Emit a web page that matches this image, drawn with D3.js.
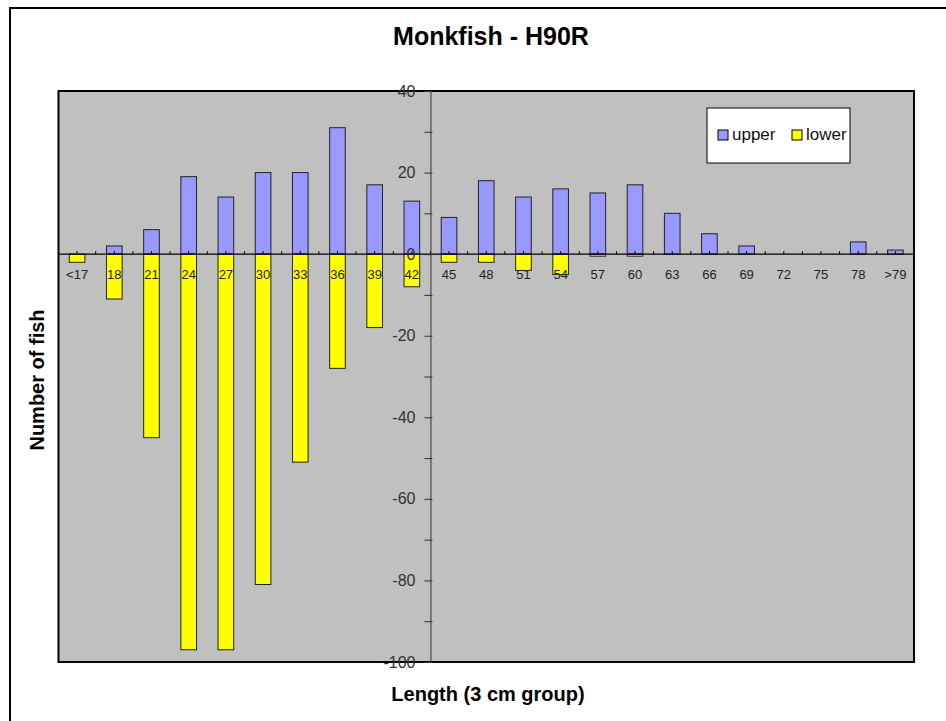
<!DOCTYPE html>
<html>
<head>
<meta charset="utf-8">
<script src="https://cdn.jsdelivr.net/npm/d3@7"></script>
<style>
    body { margin: 0; background: #fff; }
    svg text { font-family: "Liberation Sans", Arial, sans-serif; }
</style>
</head>
<body>
<script>
const width = 946;
const height = 721;

// length groups (3 cm)
let categories = ["<17", "18", "21", "24", "27", "30", "33", "36", "39", "42", "45",
    "48", "51", "54", "57", "60", "63", "66", "69", "72", "75", "78", ">79"];

let upper = [0, 2, 6, 19, 14, 20, 20, 31, 17, 13, 9, 18, 14, 16, 15, 17, 10, 5, 2, 0, 0, 3, 1];
let lower = [-2, -11, -45, -97, -97, -81, -51, -28, -18, -8, -2, -2, -4, -5, -0.5, -0.5, 0, 0, 0, 0, 0, 0, 0];

let yTicks = [-100, -90, -80, -70, -60, -50, -40, -30, -20, -10, 0, 10, 20, 30, 40];

let series = [
    { name: "upper", values: upper, color: "#9999ff" },
    { name: "lower", values: lower, color: "#ffff00" }
];

let margin = { top: 91, right: 32, bottom: 59, left: 58.5 };

let svg = d3
    .select("body")
    .append("svg")
    .attr("width", width)
    .attr("height", height);

// outer chart border (runs off the right / bottom edge)
svg.append("rect")
    .attr("x", 10)
    .attr("y", 8)
    .attr("width", width)
    .attr("height", height)
    .attr("fill", "#fff")
    .attr("stroke", "#000")
    .attr("stroke-width", 2);

let xScale = d3.scaleBand()
    .domain(categories)
    .range([margin.left, width - margin.right])
    .padding(0);

let yScale = d3.scaleLinear()
    .domain([-100, 40])
    .range([height - margin.bottom, margin.top]);

let barWidth = xScale.bandwidth() * 0.42;

// plot area
svg.append("rect")
    .attr("x", margin.left)
    .attr("y", margin.top)
    .attr("width", width - margin.right - margin.left)
    .attr("height", yScale(-100) - yScale(40))
    .attr("fill", "#c0c0c0")
    .attr("stroke", "#000")
    .attr("stroke-width", 2);

// bars - both series share the same slot
series.forEach(s => {
    svg.append("g")
        .selectAll("rect")
        .data(categories.map((c, i) => ({ cat: c, value: s.values[i] })).filter(d => d.value != 0))
        .join("rect")
        .attr("x", d => xScale(d.cat) + (xScale.bandwidth() - barWidth) / 2)
        .attr("y", d => yScale(Math.max(0, d.value)))
        .attr("width", barWidth)
        .attr("height", d => Math.abs(yScale(d.value) - yScale(0)))
        .attr("fill", s.color)
        .attr("stroke", "#222")
        .attr("stroke-width", 1);
});

// category axis along zero
let zeroY = yScale(0);
let catAxis = svg.append("g");

catAxis.append("line")
    .attr("x1", margin.left)
    .attr("x2", width - margin.right)
    .attr("y1", zeroY)
    .attr("y2", zeroY)
    .attr("stroke", "#000")
    .attr("stroke-width", 1.2);

let halfSteps = [];
categories.forEach(c => {
    halfSteps.push(xScale(c));
    halfSteps.push(xScale(c) + xScale.bandwidth() / 2);
});

catAxis.selectAll(".tk")
    .data(halfSteps.slice(1))
    .join("line")
    .attr("class", "tk")
    .attr("x1", d => d)
    .attr("x2", d => d)
    .attr("y1", zeroY - 3)
    .attr("y2", zeroY)
    .attr("stroke", "#000");

catAxis.selectAll(".lbl")
    .data(categories)
    .join("text")
    .attr("class", "lbl")
    .attr("x", d => xScale(d) + xScale.bandwidth() / 2)
    .attr("y", zeroY + 25)
    .attr("text-anchor", "middle")
    .style("font-size", "13px")
    .attr("fill", "#222")
    .text(d => d);

// value axis, crossing between 42 and 45
let leftAxis = d3.axisLeft(yScale)
    .tickValues(yTicks)
    .tickSizeInner(6)
    .tickSizeOuter(0)
    .tickPadding(9)
    .tickFormat(d => d % 20 == 0 ? d : "");

let leftContainer = svg.append("g")
    .attr("transform", `translate(${xScale("45")}, 0)`)
    .call(leftAxis);

leftContainer.select(".domain").attr("stroke", "#333");
leftContainer.selectAll(".tick line").attr("stroke", "#333").attr("x2", -6).attr("x1", 2);
leftContainer.selectAll(".tick text")
    .attr("fill", "#333")
    .style("font-size", "16px")
    .style("font-family", "'Liberation Sans', Arial, sans-serif");

// legend
let legend = svg.append("g").attr("transform", "translate(707, 108)");

legend.append("rect")
    .attr("width", 143)
    .attr("height", 55)
    .attr("fill", "#fff")
    .attr("stroke", "#000");

let legendX = [11, 85];

series.forEach((s, i) => {
    legend.append("rect")
        .attr("x", legendX[i])
        .attr("y", 22)
        .attr("width", 10)
        .attr("height", 10)
        .attr("fill", s.color)
        .attr("stroke", "#000");

    legend.append("text")
        .attr("x", legendX[i] + 14)
        .attr("y", 32)
        .style("font-size", "17px")
        .attr("fill", "#111")
        .text(s.name);
});

// titles
svg.append("text")
    .attr("x", 491)
    .attr("y", 45)
    .attr("text-anchor", "middle")
    .style("font-size", "25px")
    .style("font-weight", "bold")
    .text("Monkfish - H90R");

svg.append("text")
    .attr("x", 488)
    .attr("y", 701)
    .attr("text-anchor", "middle")
    .style("font-size", "20px")
    .style("font-weight", "bold")
    .text("Length (3 cm group)");

svg.append("text")
    .attr("text-anchor", "middle")
    .style("font-size", "20px")
    .style("font-weight", "bold")
    .attr("transform", "translate(44, 380) rotate(270)")
    .text("Number of fish");
</script>
</body>
</html>
